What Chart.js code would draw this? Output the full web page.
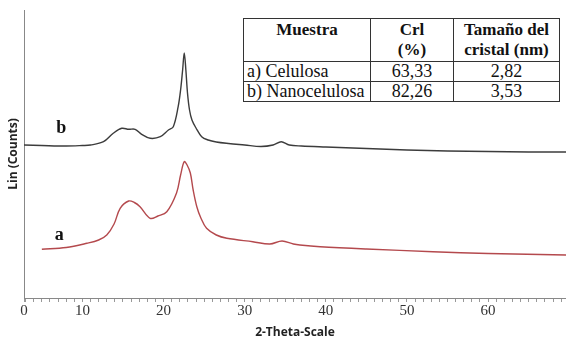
<!DOCTYPE html>
<html>
<head>
<meta charset="utf-8">
<script src="https://cdn.jsdelivr.net/npm/chart.js@4"></script>
<style>
  html, body { margin: 0; padding: 0; background: #fff; }
  #wrap { position: relative; width: 566px; height: 342px; }
  canvas { position: absolute; left: 0; top: 0; }
  table.info {
    position: absolute; left: 243px; top: 18px; width: 316px;
    border-collapse: collapse; font-family: "Liberation Serif", "Times New Roman", serif;
    color: #111; background: #fff; table-layout: fixed;
  }
  table.info td, table.info th { border: 1px solid #333; padding: 0 3px; }
  table.info th { font-size: 17px; font-weight: bold; line-height: 20px; height: 41px; vertical-align: top; text-align: center; padding-top: 1px; }
  table.info td { font-size: 18px; line-height: 19px; height: 19px; text-align: center; }
  table.info td.name { text-align: left; }
</style>
</head>
<body>
<div id="wrap">
  <canvas id="c" width="566" height="342"></canvas>
  <table class="info">
    <colgroup><col style="width:127px"><col style="width:83px"><col style="width:106px"></colgroup>
    <tr><th>Muestra</th><th>Crl<br>(%)</th><th>Tamaño del<br>cristal (nm)</th></tr>
    <tr><td class="name">a) Celulosa</td><td>63,33</td><td>2,82</td></tr>
    <tr><td class="name">b) Nanocelulosa</td><td>82,26</td><td>3,53</td></tr>
  </table>
</div>
<script>
// ---- data (2-theta in degrees, intensity in arbitrary counts) ----
const bX = [2.8, 5, 8, 10, 11, 12.6, 13.8, 14.85, 15.7, 16.5, 17.3, 18.35, 19.6, 20.6, 21.2, 21.8, 22.1, 22.35, 22.55, 22.75, 22.95, 23.2, 23.5, 24.0, 24.7, 25.5, 26.5, 28, 30, 32, 33.5, 34.5, 35.5, 37, 40, 45, 50, 55, 60, 65, 69.6];
const bY = [153, 152.5, 152, 152.5, 153, 156.3, 164.7, 169.7, 168.7, 168.7, 163.7, 159.7, 161.3, 168, 171.3, 191.3, 208, 228, 245, 228, 205, 188, 178, 170, 161.3, 158, 156, 154.5, 153, 151.5, 153, 156.3, 153, 152, 151, 149.5, 148, 147, 146.5, 146, 146];
const aX = [5.0, 8.0, 10.55, 12, 13, 13.9, 14.65, 15.7, 16.4, 17.1, 18.35, 19.3, 20.4, 21.6, 22.1, 22.55, 22.9, 23.3, 23.65, 24.1, 24.6, 25.3, 26.5, 27.8, 31, 33.1, 34.6, 36, 36.8, 39.3, 45, 53.2, 60, 69.6];
const aY = [48.7, 50.5, 54.7, 58, 63, 74, 89.7, 97, 95.5, 91.3, 79.7, 82, 86.3, 105, 123, 136.3, 133, 125, 108, 91.3, 80, 69.7, 63, 59.7, 56.3, 54, 57, 54, 53, 51.3, 49, 46.3, 44.5, 43];
const xTickValues = [2.8, 10, 20, 30, 40, 50, 60];
const xTickLabels = ['0', '10', '20', '30', '40', '50', '60'];
const curveLabels = ['b', 'a'];
const curveLabelX = [7.4, 7.15];
const curveLabelY = [170, 63];

const X_MIN = 2.8, X_MAX = 69.6, Y_MIN = 0, Y_MAX = 288;

const toPts = (xs, ys) => xs.map((x, i) => ({ x: x, y: ys[i] }));

const labelPlugin = {
  id: 'curveLabels',
  afterDatasetsDraw(chart) {
    const { ctx, scales } = chart;
    ctx.save();
    ctx.font = 'bold 18px "Liberation Serif", serif';
    ctx.fillStyle = '#111';
    ctx.textAlign = 'center';
    ctx.textBaseline = 'middle';
    curveLabels.forEach((t, i) => {
      ctx.fillText(t, scales.x.getPixelForValue(curveLabelX[i]), scales.y.getPixelForValue(curveLabelY[i]));
    });
    ctx.restore();
  }
};

new Chart(document.getElementById('c'), {
  type: 'line',
  data: {
    datasets: [
      { label: 'b) Nanocelulosa', data: toPts(bX, bY), borderColor: '#3c3c3c', borderWidth: 1.4, pointRadius: 0, tension: 0.35, fill: false },
      { label: 'a) Celulosa', data: toPts(aX, aY), borderColor: '#b4494d', borderWidth: 1.4, pointRadius: 0, tension: 0.35, fill: false }
    ]
  },
  options: {
    responsive: false,
    animation: false,
    layout: { padding: { top: 10, left: 0, right: 0, bottom: 0 } },
    plugins: { legend: { display: false }, tooltip: { enabled: false } },
    scales: {
      x: {
        type: 'linear', min: X_MIN, max: X_MAX,
        afterFit(s) { s.height = 44; },
        afterBuildTicks(s) {
          const t = [{ value: X_MIN }];
          for (let v = 3; v <= 69; v++) t.push({ value: v });
          s.ticks = t;
        },
        ticks: {
          autoSkip: false, maxRotation: 0, padding: 0, color: '#333',
          font: { family: '"Liberation Serif", serif', size: 15 },
          callback(v) { const i = xTickValues.indexOf(v); return i >= 0 ? xTickLabels[i] : ''; }
        },
        grid: { drawOnChartArea: false, drawTicks: true, tickLength: 4, color: '#999' },
        border: { display: true, color: '#888', width: 1 },
        title: { display: true, text: '2-Theta-Scale', color: '#222', font: { family: '"Open Sans", sans-serif', size: 12, weight: 'bold' }, padding: { top: 0, bottom: 2 } }
      },
      y: {
        type: 'linear', min: Y_MIN, max: Y_MAX,
        afterFit(s) { s.width = 24; },
        ticks: { display: false },
        grid: { drawOnChartArea: false, drawTicks: false },
        border: { display: true, color: '#888', width: 1 },
        title: { display: true, text: 'Lin (Counts)', color: '#222', font: { family: '"Open Sans", sans-serif', size: 12, weight: 'bold' }, padding: { top: 6, bottom: 0 } }
      }
    }
  },
  plugins: [labelPlugin]
});
</script>
</body>
</html>
